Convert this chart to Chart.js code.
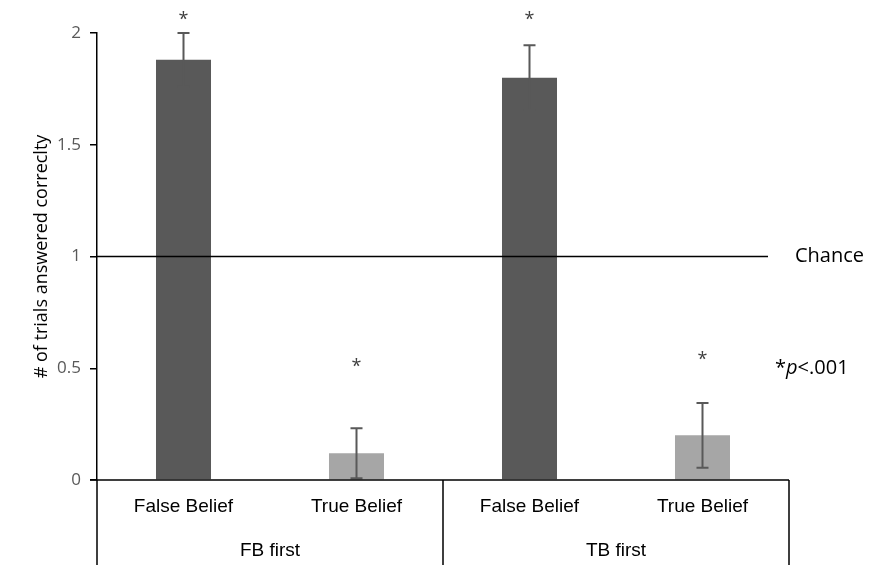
<!DOCTYPE html>
<html>
<head>
<meta charset="utf-8">
<script src="https://cdn.jsdelivr.net/npm/chart.js@4"></script>
<style>
  html, body { margin: 0; padding: 0; background: #fff; }
  #wrap { width: 894px; height: 565px; position: relative; }
</style>
</head>
<body>
<div id="wrap"><canvas id="chart"></canvas></div>
<script>
var categories = ['False Belief', 'True Belief', 'False Belief', 'True Belief'];
var groups = ['FB first', 'TB first'];
var means = [1.88, 0.12, 1.80, 0.20];
var errors = [0.12, 0.112, 0.145, 0.145];
var starLevels = [2.07, 0.52, 2.07, 0.55];
var chanceLevel = 1;
var yTicks = [0, 0.5, 1, 1.5, 2];
var yTickLabels = ['0', '0.5', '1', '1.5', '2'];
var barColors = ['#595959', '#a6a6a6', '#595959', '#a6a6a6'];

var uiFont = '"Open Sans", "Noto Sans", sans-serif';
var catFont = '"Liberation Sans Narrow", "Liberation Sans", Arial, sans-serif';

var overlay = {
  id: 'overlay',
  afterDatasetsDraw: function (chart) {
    var ctx = chart.ctx;
    var xs = chart.scales.x;
    var ys = chart.scales.y;
    var area = chart.chartArea;
    var y0 = ys.getPixelForValue(0);
    var H = chart.height;

    ctx.save();

    // error bars
    ctx.strokeStyle = '#595959';
    ctx.lineWidth = 2;
    means.forEach(function (m, i) {
      var x = xs.getPixelForValue(i);
      var top = ys.getPixelForValue(m + errors[i]);
      var bot = ys.getPixelForValue(Math.max(0, m - errors[i]));
      ctx.beginPath();
      ctx.moveTo(x, top); ctx.lineTo(x, bot);
      ctx.moveTo(x - 6, top); ctx.lineTo(x + 6, top);
      ctx.moveTo(x - 6, bot); ctx.lineTo(x + 6, bot);
      ctx.stroke();
    });

    // significance stars
    ctx.fillStyle = '#404040';
    ctx.font = '18px ' + uiFont;
    ctx.textAlign = 'center';
    ctx.textBaseline = 'middle';
    starLevels.forEach(function (s, i) {
      ctx.fillText('*', xs.getPixelForValue(i), ys.getPixelForValue(s) + 3);
    });

    // chance line
    var yc = ys.getPixelForValue(chanceLevel);
    ctx.strokeStyle = '#000';
    ctx.lineWidth = 1.5;
    ctx.beginPath();
    ctx.moveTo(area.left, yc);
    ctx.lineTo(area.right - 21, yc);
    ctx.stroke();

    ctx.fillStyle = '#000';
    ctx.font = '20px ' + uiFont;
    ctx.textAlign = 'left';
    ctx.fillText('Chance', area.right + 6, yc);

    var yp = ys.getPixelForValue(0.5);
    var x0 = area.right - 14;
    ctx.fillText('*', x0, yp);
    x0 += ctx.measureText('*').width;
    ctx.font = 'italic 20px ' + uiFont;
    ctx.fillText('p', x0, yp);
    x0 += ctx.measureText('p').width;
    ctx.font = '20px ' + uiFont;
    ctx.fillText('<.001', x0, yp);

    // category axis (two levels)
    ctx.strokeStyle = '#000';
    ctx.lineWidth = 1.5;
    ctx.beginPath();
    ctx.moveTo(area.left - 7, y0);
    ctx.lineTo(area.right, y0);
    var edges = [area.left, (xs.getPixelForValue(1) + xs.getPixelForValue(2)) / 2, area.right];
    edges.forEach(function (e) {
      ctx.moveTo(e, y0);
      ctx.lineTo(e, H);
    });
    ctx.stroke();

    ctx.fillStyle = '#000';
    ctx.font = '19px ' + catFont;
    ctx.textAlign = 'center';
    categories.forEach(function (c, i) {
      ctx.fillText(c, xs.getPixelForValue(i), y0 + 27);
    });
    groups.forEach(function (g, k) {
      ctx.fillText(g, (edges[k] + edges[k + 1]) / 2, y0 + 71);
    });

    ctx.restore();
  }
};

new Chart(document.getElementById('chart'), {
  type: 'bar',
  data: {
    labels: categories,
    datasets: [{
      data: means,
      backgroundColor: barColors,
      borderWidth: 0,
      categoryPercentage: 1,
      barPercentage: 0.318
    }]
  },
  options: {
    responsive: true,
    maintainAspectRatio: false,
    animation: false,
    events: [],
    layout: { padding: { top: 33, right: 105, bottom: 0, left: 0 } },
    plugins: { legend: { display: false }, tooltip: { enabled: false } },
    scales: {
      x: {
        ticks: { display: false },
        grid: { display: false },
        border: { display: false },
        afterFit: function (scale) { scale.height = 85; }
      },
      y: {
        min: 0,
        max: 2,
        afterBuildTicks: function (scale) {
          scale.ticks = yTicks.map(function (v) { return { value: v }; });
        },
        ticks: {
          color: '#595959',
          padding: 9,
          font: { family: uiFont, size: 17 },
          callback: function (value, index) { return yTickLabels[index]; }
        },
        grid: {
          drawOnChartArea: false,
          drawTicks: true,
          tickLength: 7,
          color: '#000',
          lineWidth: 1.5
        },
        border: { display: true, color: '#000', width: 1.5 },
        title: {
          display: true,
          text: '# of trials answered correclty',
          color: '#000',
          font: { family: uiFont, size: 18 },
          padding: { top: 31, bottom: 0 }
        },
        afterFit: function (scale) { scale.width = 97; }
      }
    }
  },
  plugins: [overlay]
});
</script>
</body>
</html>
